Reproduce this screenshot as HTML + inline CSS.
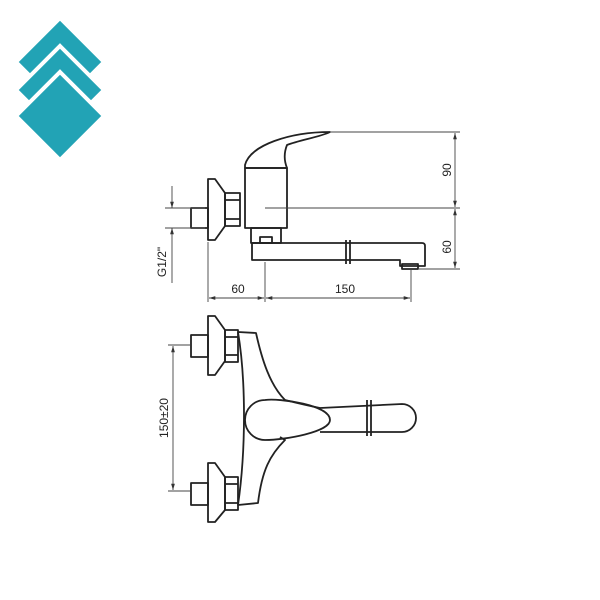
<!DOCTYPE html>
<html><head><meta charset="utf-8"><style>body{margin:0;background:#fff}svg{display:block}</style></head><body>
<svg width="600" height="600" viewBox="0 0 600 600" xmlns="http://www.w3.org/2000/svg" font-family="Liberation Sans, sans-serif">
<defs><marker id="a" viewBox="0 0 10 10" refX="10" refY="5" markerWidth="7" markerHeight="7" orient="auto-start-reverse"><path d="M0,2 L10,5 L0,8 z" fill="#333"/></marker></defs>
<g fill="#22a3b5" stroke="#fff" stroke-width="4">
<polygon points="60,18 104,62 60,106 16,62"/>
<polygon points="60,46 104,90 60,134 16,90"/>
<polygon points="60,72 104,116 60,160 16,116"/>
</g>
<g fill="none" stroke="#222" stroke-width="1.8" stroke-linejoin="round">
<path d="M245,165 C250,145 290,132 330,132 C320,137 300,140 287,145 C283,155 285,163 287,168 L245,168 Z"/>
<rect x="245" y="168" width="42" height="60"/>
<path d="M208,179 L215,179 L225,193 L225,226 L215,240 L208,240 Z"/>
<rect x="225" y="193" width="15" height="33"/>
<path d="M225,200 h15 M225,219 h15"/>
<rect x="191" y="208" width="17" height="20"/>
<rect x="251" y="228" width="30" height="15"/>
<rect x="260" y="237" width="12" height="6"/>
<path d="M252,243 L422,243 Q425,243 425,246 L425,266 L400,266 L400,260 L252,260 Z"/>
<rect x="402" y="264" width="16" height="5"/>
<path d="M346,240 v24 M350,240 v24"/>
<path d="M208,316 L215,316 L225,330 L225,361 L215,375 L208,375 Z"/>
<rect x="225" y="330" width="13" height="32"/>
<path d="M225,337 h13 M225,355 h13"/>
<rect x="191" y="335" width="17" height="22"/>
<path d="M208,463 L215,463 L225,477 L225,510 L215,522 L208,522 Z"/>
<rect x="225" y="477" width="13" height="33"/>
<path d="M225,484 h13 M225,503 h13"/>
<rect x="191" y="483" width="17" height="22"/>
<path d="M238,332 C246,380 246,450 238,505 L258,503 C262,470 270,455 285,440 L280,437 M238,332 L256,333 C262,360 270,385 285,400"/>
<path d="M285,400 Q305,405 320,408 L402,404 A14,14 0 0 1 402,432 L320,432"/>
<path d="M265,400 C280,398 330,405 330,420 C330,432 285,440 265,440 A20,20 0 0 1 265,400 Z"/>
<path d="M367,400 v36 M371,400 v36"/>
</g>
<g stroke="#444" stroke-width="0.9" fill="none">
<path d="M330,132 H460 M265,208 H460 M418,269 H460"/>
<path d="M455,133 V207" marker-start="url(#a)" marker-end="url(#a)"/>
<path d="M455,209 V268" marker-start="url(#a)" marker-end="url(#a)"/>
<path d="M165,208 H205 M165,228 H205"/>
<path d="M172,186 V208" marker-end="url(#a)"/>
<path d="M172,283 V228" marker-end="url(#a)"/>
<path d="M208,242 V302 M265,262 V302 M411,270 V302"/>
<path d="M209,298 H264" marker-start="url(#a)" marker-end="url(#a)"/>
<path d="M266,298 H410" marker-start="url(#a)" marker-end="url(#a)"/>
<path d="M168,345 H190 M168,491 H190"/>
<path d="M173,346 V490" marker-start="url(#a)" marker-end="url(#a)"/>
</g>
<g fill="#222" font-size="12">
<text x="238" y="293" text-anchor="middle">60</text>
<text x="345" y="293" text-anchor="middle">150</text>
<text transform="translate(451,170) rotate(-90)" text-anchor="middle">90</text>
<text transform="translate(451,247) rotate(-90)" text-anchor="middle">60</text>
<text transform="translate(166,262) rotate(-90)" text-anchor="middle">G1/2"</text>
<text transform="translate(168,418) rotate(-90)" text-anchor="middle">150±20</text>
</g>
</svg>
</body></html>
